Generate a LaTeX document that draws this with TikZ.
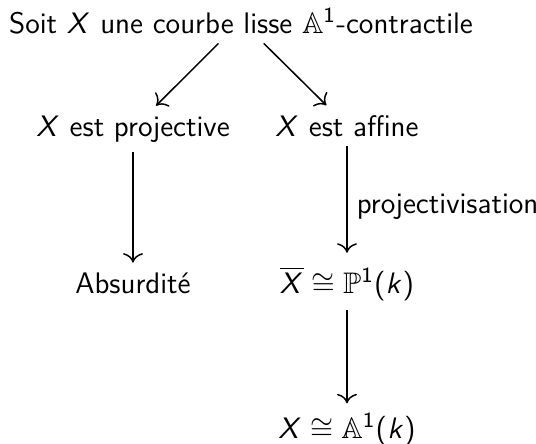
\documentclass[tikz,border=0pt]{standalone}
\usepackage{amssymb}
\usetikzlibrary{arrows.meta}
% lettres mathematiques en sans serif (italique) comme le texte
\DeclareSymbolFont{sfit}{OT1}{cmss}{m}{sl}
\DeclareSymbolFont{sfup}{OT1}{cmss}{m}{n}
\DeclareMathSymbol{X}{\mathalpha}{sfit}{`X}
\DeclareMathSymbol{k}{\mathalpha}{sfit}{`k}
\DeclareMathSymbol{1}{\mathalpha}{sfup}{`1}
\DeclareMathSymbol{(}{\mathopen}{sfup}{`(}
\DeclareMathSymbol{)}{\mathclose}{sfup}{`)}

\begin{document}
\begin{tikzpicture}[x=0.37pt,y=-0.37pt,line width=0.55pt,>={To[scale=1.25]},
  font=\fontsize{11}{13}\selectfont\sffamily]
\useasboundingbox (0,0) rectangle (536,443);
% ---------- noeuds (coordonnees en px, y vers le bas) ----------
\node[anchor=base] (courbe) at (241,33)
  {Soit $X$ une courbe lisse $\mathbb{A}^1$-contractile};
\node[anchor=base] (proj) at (133,136) {$X$ est projective};
\node[anchor=base] (aff) at (347,136) {$X$ est affine};
\node[anchor=base] (absurde) at (133,293) {Absurdit\'e};
\node[anchor=base] (pun) at (347,293) {$\overline{X}\cong\mathbb{P}^1(k)$};
\node[anchor=base] (aun) at (347,438) {$X\cong\mathbb{A}^1(k)$};
% ---------- fleches ----------
\draw[->] (courbe) -- (proj);
\draw[->] (courbe) -- (aff);
\draw[->] (proj) -- (absurde);
\draw[->,shorten >=1.5pt] (aff) -- node[right,yshift=-2pt] {projectivisation} (pun);
\draw[->] (pun) -- (aun);
\end{tikzpicture}
\end{document}
